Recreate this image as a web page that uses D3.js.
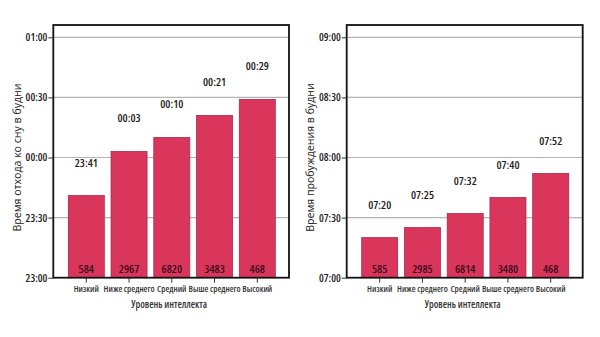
<!DOCTYPE html>
<html><head><meta charset="utf-8">
<script src="https://cdn.jsdelivr.net/npm/d3@7"></script>
<style>body{margin:0;background:#fff}svg{display:block}text{font-family:"Open Sans",sans-serif;font-stretch:condensed}</style>
</head><body><svg id="c" width="600" height="337"></svg>
<script>
const categories = ["Низкий","Ниже среднего","Средний","Выше среднего","Высокий"];
// minutes after 23:00
const bedtimeValues = [41, 63, 70, 81, 89];
const bedtimeLabels = ["23:41","00:03","00:10","00:21","00:29"];
const bedtimeCounts = [584, 2967, 6820, 3483, 468];
const bedtimeTicks = ["23:00","23:30","00:00","00:30","01:00"];
// minutes after 07:00
const wakeValues = [20, 25, 32, 40, 52];
const wakeLabels = ["07:20","07:25","07:32","07:40","07:52"];
const wakeCounts = [585, 2985, 6814, 3480, 468];
const wakeTicks = ["07:00","07:30","08:00","08:30","09:00"];
const tickMinutes = [0, 30, 60, 90, 120];

const svg = d3.select("#c");

function panel(o) {
  const g = svg.append("g");
  const y = d3.scaleLinear().domain([0,120]).range([277.7, 37.3]);
  const x = d3.scaleBand().domain(categories).range([o.bx0, o.bx1]).paddingInner(0.158).paddingOuter(0);
  g.selectAll(".grid").data(tickMinutes.slice(1)).enter().append("line")
    .attr("x1", o.fx0).attr("x2", o.fx1).attr("y1", d=>y(d)).attr("y2", d=>y(d))
    .attr("stroke", "#b4b4b4").attr("stroke-width", 1.2);
  g.selectAll(".bar").data(o.values).enter().append("rect")
    .attr("x", (d,i)=>x(categories[i])).attr("width", x.bandwidth())
    .attr("y", d=>y(d)).attr("height", d=>y(0)-y(d))
    .attr("fill", "#da365b").attr("stroke", "#a8294a").attr("stroke-width", 0.8);
  g.selectAll(".vl").data(o.labels).enter().append("text")
    .attr("x", (d,i)=>x(categories[i]) + x.bandwidth()/2)
    .attr("y", (d,i)=>y(o.values[i]) - 33)
    .attr("dy", "0.35em").attr("text-anchor", "middle")
    .attr("font-size", 11.4).attr("font-weight", 600).attr("fill", "#222")
    .text(d=>d);
  g.selectAll(".cnt").data(o.counts).enter().append("text")
    .attr("x", (d,i)=>x(categories[i]) + x.bandwidth()/2)
    .attr("y", 269.3).attr("dy", "0.35em").attr("text-anchor", "middle")
    .attr("font-size", 11.5).attr("font-weight", 600).attr("fill", "#3a0c1c")
    .text(d=>d);
  g.append("rect").attr("x", o.fx0).attr("y", 25).attr("width", o.fx1-o.fx0).attr("height", 277.7-25)
    .attr("fill", "none").attr("stroke", "#111").attr("stroke-width", 1.8);
  const ya = d3.axisLeft(y).tickValues(tickMinutes).tickFormat((d,i)=>o.ticks[i]).tickSize(5).tickPadding(1);
  const yg = g.append("g").attr("transform", `translate(${o.fx0},0)`).call(ya);
  yg.select(".domain").remove();
  yg.selectAll("line").attr("stroke", "#333");
  yg.selectAll("text").attr("font-size", 10.7).attr("font-weight", 600).attr("fill", "#222")
    .style("font-family", '"Open Sans",sans-serif');
  const xa = d3.axisBottom(x).tickSize(5).tickPadding(3);
  const xg = g.append("g").attr("transform", "translate(0,277.7)").call(xa);
  xg.select(".domain").remove();
  xg.selectAll("line").attr("stroke", "#333");
  xg.selectAll("text").attr("font-size", 8.8).attr("font-weight", 600).attr("fill", "#333")
    .style("font-family", '"Open Sans",sans-serif');
  g.append("text").attr("x", (o.fx0+o.fx1)/2 - 2).attr("y", 304.5).attr("dy", "0.35em")
    .attr("text-anchor", "middle").attr("font-size", 9.9).attr("font-weight", 600).attr("fill", "#333")
    .text("Уровень интеллекта");
  g.append("text").attr("transform", `translate(${o.ytx},157.5) rotate(-90)`).attr("dy", "0.35em")
    .attr("text-anchor", "middle").attr("font-size", 10.6).attr("fill", "#222")
    .style("font-stretch", "normal")
    .text(o.ytitle);
}

panel({fx0:53.3, fx1:289, bx0:68.3, bx1:275.3, values:bedtimeValues, labels:bedtimeLabels, counts:bedtimeCounts, ticks:bedtimeTicks, ytitle:"Время отхода ко сну в будни", ytx:17});
panel({fx0:346.7, fx1:582.7, bx0:361.7, bx1:568.7, values:wakeValues, labels:wakeLabels, counts:wakeCounts, ticks:wakeTicks, ytitle:"Время пробуждения в будни", ytx:310});
</script></body></html>
